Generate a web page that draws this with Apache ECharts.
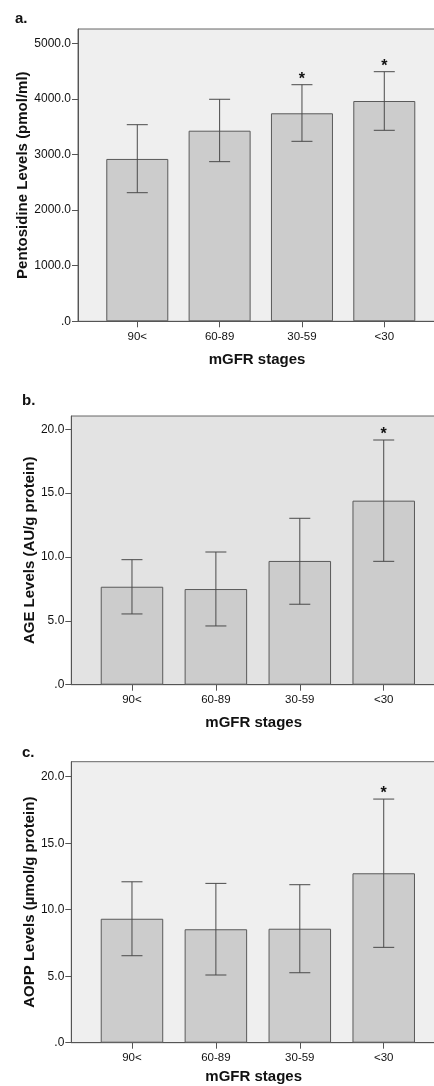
<!DOCTYPE html>
<html>
<head>
<meta charset="utf-8">
<script src="https://cdn.jsdelivr.net/npm/echarts@6/dist/echarts.min.js"></script>
<style>
html,body{margin:0;padding:0;background:#ffffff;}
#chart{width:434px;height:1086px;}
</style>
</head>
<body>
<div id="chart"></div>
<script>
const categories = ['90<', '60-89', '30-59', '<30'];
const categoryIndex = [0, 1, 2, 3];

const pentoMean = [2920, 3428, 3741, 3962];
const pentoLow  = [2313, 2871, 3237, 3435];
const pentoHigh = [3536, 3993, 4255, 4489];
const pentoSig  = [0, 0, 1, 1];

const ageMean = [7.67, 7.49, 9.69, 14.41];
const ageLow  = [5.54, 4.60, 6.30, 9.66];
const ageHigh = [9.79, 10.39, 13.03, 19.16];
const ageSig  = [0, 0, 0, 1];

const aoppMean = [9.32, 8.53, 8.57, 12.74];
const aoppLow  = [6.54, 5.09, 5.26, 7.17];
const aoppHigh = [12.10, 11.98, 11.88, 18.32];
const aoppSig  = [0, 0, 0, 1];

const pentoTicks = [0, 1000, 2000, 3000, 4000, 5000];
const levelTicks = [0, 5, 10, 15, 20];

const panelLabels = ['a.', 'b.', 'c.'];
const xTitle = 'mGFR stages';
const yTitles = ['Pentosidine Levels (pmol/ml)', 'AGE Levels (AU/g protein)', 'AOPP Levels (\u00b5mol/g protein)'];

const FONT = '"Liberation Sans", Arial, sans-serif';
const DARK = '#555555';

const chart = echarts.init(document.getElementById('chart'), null, {renderer: 'canvas'});

function fmtY(v) { return v === 0 ? '.0' : v.toFixed(1); }

const grids = [
  {left: 78, top: 29, right: -2, height: 292.3, bg: '#efefef'},
  {left: 71.3, top: 416, right: -2, height: 268.7, bg: '#e3e3e3'},
  {left: 71.3, top: 761.7, right: -2, height: 281, bg: '#efefef'}
];
const xRanges = [[-0.72, 3.628], [-0.723, 3.623], [-0.723, 3.623]];
const yMax = [5257, 21.04, 21.13];
const yTickSets = [pentoTicks, levelTicks, levelTicks];
const yNameGap = [48, 34, 34];
const xLabelMargin = [10, 9, 9];
const xNameGap = [31.5, 30.5, 27];
const barWidths = [62, 62.5, 62.5];
const means = [pentoMean, ageMean, aoppMean];
const lows = [pentoLow, ageLow, aoppLow];
const highs = [pentoHigh, ageHigh, aoppHigh];
const sigs = [pentoSig, ageSig, aoppSig];
const labelTops = [11, 393, 745];
const labelLefts = [15, 22, 22];

const option = {
  animation: false,
  backgroundColor: '#ffffff',
  title: panelLabels.map((t, i) => ({
    text: t, left: labelLefts[i], top: labelTops[i], padding: 0,
    textStyle: {fontFamily: FONT, fontSize: 15, fontWeight: 'bold', color: '#111'}
  })),
  grid: grids.map(g => ({
    left: g.left, top: g.top, right: g.right, height: g.height,
    show: true, backgroundColor: g.bg, borderColor: '#666', borderWidth: 1,
    containLabel: false, outerBoundsMode: 'none'
  })),
  xAxis: grids.map((g, i) => ({
    type: 'value', gridIndex: i, min: xRanges[i][0], max: xRanges[i][1],
    name: xTitle, nameLocation: 'middle', nameGap: xNameGap[i], nameMoveOverlap: false,
    nameTextStyle: {fontFamily: FONT, fontSize: 15, fontWeight: 'bold', color: '#111'},
    axisLine: {show: true, onZero: false, lineStyle: {color: DARK, width: 1}},
    axisTick: {show: true, length: 6, customValues: categoryIndex, lineStyle: {color: DARK}},
    axisLabel: {show: true, customValues: categoryIndex, margin: xLabelMargin[i],
      fontFamily: FONT, fontSize: 11.5, color: '#111',
      formatter: v => categories[Math.round(v)]},
    splitLine: {show: false}
  })),
  yAxis: grids.map((g, i) => ({
    type: 'value', gridIndex: i, min: 0, max: yMax[i],
    name: yTitles[i], nameLocation: 'middle', nameGap: yNameGap[i], nameRotate: 90,
    nameMoveOverlap: false,
    nameTextStyle: {fontFamily: FONT, fontSize: 15, fontWeight: 'bold', color: '#111'},
    axisLine: {show: true, onZero: false, lineStyle: {color: DARK, width: 1}},
    axisTick: {show: true, length: 6, customValues: yTickSets[i], lineStyle: {color: DARK}},
    axisLabel: {show: true, customValues: yTickSets[i], margin: 7,
      fontFamily: FONT, fontSize: 12, color: '#111', formatter: fmtY},
    splitLine: {show: false}
  })),
  series: []
};

for (let i = 0; i < 3; i++) {
  option.series.push({
    type: 'bar', xAxisIndex: i, yAxisIndex: i, barWidth: barWidths[i],
    data: categoryIndex.map(k => [k, means[i][k]]),
    itemStyle: {color: '#cccccc', borderColor: '#5a5a5a', borderWidth: 1},
    silent: true
  });
  option.series.push({
    type: 'custom', xAxisIndex: i, yAxisIndex: i, silent: true, z: 5,
    data: categoryIndex.map(k => [k, lows[i][k], highs[i][k], sigs[i][k]]),
    encode: {x: 0, y: [1, 2]},
    renderItem: function (params, api) {
      const x = api.value(0);
      const lo = api.coord([x, api.value(1)]);
      const hi = api.coord([x, api.value(2)]);
      const half = 10.5;
      const style = {stroke: '#4a4a4a', lineWidth: 1};
      const children = [
        {type: 'line', shape: {x1: lo[0], y1: lo[1], x2: hi[0], y2: hi[1]}, style: style},
        {type: 'line', shape: {x1: lo[0] - half, y1: lo[1], x2: lo[0] + half, y2: lo[1]}, style: style},
        {type: 'line', shape: {x1: hi[0] - half, y1: hi[1], x2: hi[0] + half, y2: hi[1]}, style: style}
      ];
      if (api.value(3) === 1) {
        children.push({type: 'text', style: {
          text: '*', x: hi[0], y: hi[1] + 3, align: 'center', verticalAlign: 'bottom',
          font: 'bold 16px ' + FONT, fill: '#111'
        }});
      }
      return {type: 'group', children: children};
    }
  });
}

chart.setOption(option);
</script>
</body>
</html>
